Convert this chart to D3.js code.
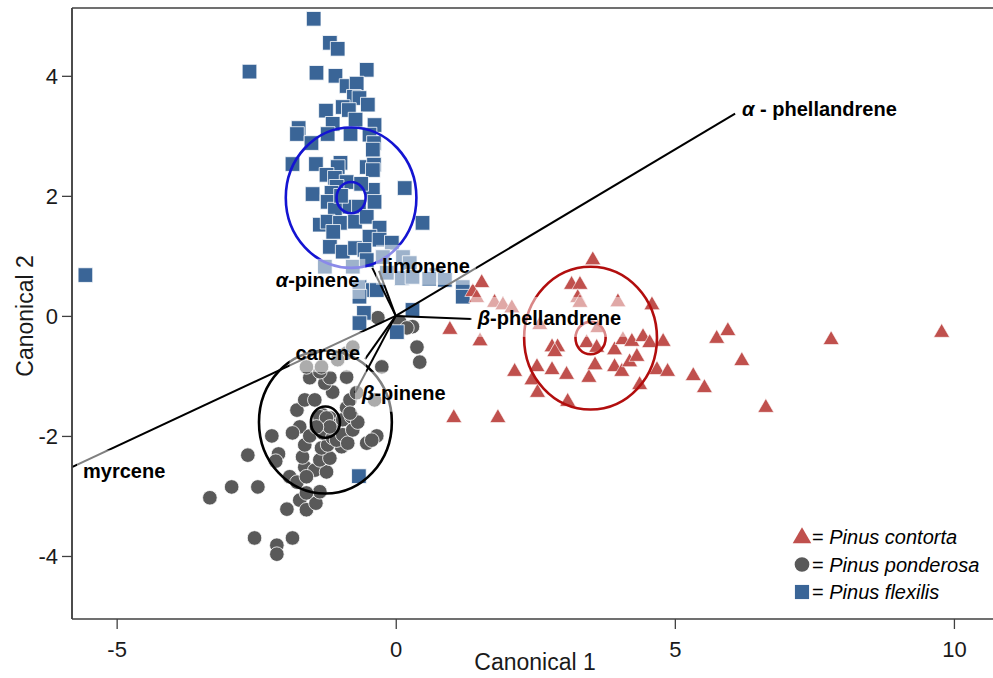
<!DOCTYPE html>
<html>
<head>
<meta charset="utf-8">
<script src="https://cdn.jsdelivr.net/npm/d3@7/dist/d3.min.js"></script>
<style>
  html, body { margin: 0; padding: 0; background: #fff; }
  svg { display: block; font-family: "Liberation Sans", Arial, Helvetica, sans-serif; }
</style>
</head>
<body>
<svg id="chart" width="993" height="678"></svg>
<script>
// ---------------- DATA ----------------
const xTicks = [-5, 0, 5, 10];
const yTicks = [-4, -2, 0, 2, 4];
const xTitle = "Canonical 1";
const yTitle = "Canonical 2";

const speciesNames = ["Pinus contorta", "Pinus ponderosa", "Pinus flexilis"];

// Pinus flexilis (squares)
const flexilis = [
  [-1.47,4.95],[-1.18,4.55],[-1.04,4.45],[-1.42,4.05],[-1.08,4.0],[-0.52,4.1],[-0.88,3.83],[-0.70,3.87],
  [-0.75,3.65],[-0.65,3.63],[-1.25,3.42],[-0.95,3.48],[-0.84,3.43],[-0.50,3.52],[-1.13,3.2],[-0.72,3.27],
  [-1.74,3.13],[-1.77,3.03],[-1.51,2.88],[-1.22,3.03],[-0.81,3.03],[-0.38,3.18],[-0.47,3.02],[-0.39,2.88],
  [-0.41,2.77],[-1.85,2.53],[-1.43,2.53],[-0.99,2.55],[-1.04,2.48],[-0.52,2.48],[-0.39,2.52],[-0.41,2.43],
  [-1.24,2.35],[-1.09,2.3],[-0.88,2.23],[-1.06,2.15],[-1.49,2.03],[0.16,2.13],[-0.41,2.1],[-1.15,2.05],
  [-1.22,1.9],[-0.86,1.82],[-0.66,1.82],[-0.38,1.9],[-1.09,1.77],[-1.36,1.52],[-1.22,1.57],[-1.0,1.55],
  [-0.73,1.57],[-0.52,1.65],[0.48,1.55],[-0.29,1.47],[-0.47,1.32],[-1.18,1.15],[-0.95,1.07],[-0.73,1.13],
  [-0.56,1.1],[-0.29,1.27],[-0.07,1.22],[-1.27,0.82],[-0.77,0.82],[-0.52,0.93],[-0.23,0.98],[0.13,0.98],
  [0.25,0.88],[-0.16,0.72],[0.11,0.63],[0.3,0.65],[0.73,0.68],[0.6,0.62],[0.88,0.6],[-0.65,0.48],
  [-0.41,0.43],[-0.65,0.32],[-0.34,0.43],[-0.57,0.05],[0.3,0.1],[1.2,0.48],[1.2,0.32],[-0.65,-0.12],
  [0.02,-0.27],[-5.56,0.68],[-2.62,4.07],[-0.66,-2.67],[-1.12,1.4],[-0.98,2.0],[-0.62,2.2]
];

// Pinus ponderosa (circles)
const ponderosa = [
  [-3.33,-3.03],[-2.94,-2.85],[-2.47,-2.85],[-2.65,-2.32],[-2.22,-2.0],[-2.1,-2.3],[-2.15,-2.42],[-2.53,-3.7],
  [-2.13,-3.82],[-2.13,-3.97],[-1.85,-3.7],[-1.95,-3.22],[-1.72,-3.07],[-1.6,-3.23],[-1.43,-3.12],[-1.36,-2.93],
  [-1.6,-2.95],[-1.9,-2.68],[-1.77,-2.77],[-1.63,-2.52],[-1.45,-2.57],[-1.24,-2.6],[-1.6,-2.68],[-1.36,-2.4],
  [-1.18,-2.37],[-1.67,-2.35],[-1.33,-2.2],[-1.22,-2.15],[-1.63,-2.15],[-0.97,-2.18],[-0.52,-2.12],[-0.34,-2.0],
  [-1.72,-1.85],[-1.54,-2.0],[-1.31,-1.95],[-1.13,-2.03],[-1.85,-1.95],[-1.77,-1.57],[-1.63,-1.4],[-1.45,-1.4],
  [-1.31,-1.65],[-1.18,-1.7],[-1.13,-1.82],[-0.95,-1.73],[-0.79,-1.68],[-0.88,-1.53],[-0.82,-1.4],[-0.7,-1.28],
  [-0.88,-1.02],[-1.13,-1.27],[-1.27,-1.12],[-1.18,-1.03],[-1.54,-1.03],[-1.36,-0.93],[-1.6,-0.85],[-1.33,-0.85],
  [-0.25,-0.85],[-0.38,-1.4],[-0.88,-0.62],[-0.77,-0.52],[-1.04,-0.73],[-0.43,-2.07],[0.38,-0.52],[0.43,-0.77],
  [-0.32,-0.03],[0.07,-0.1],[0.3,-0.18],[0.2,-0.2],[-1.36,-1.68],[-1.24,-1.7],[-1.18,-1.85],[-1.42,-1.85],
  [-1.06,-2.07],[-0.95,-1.98],[-0.86,-2.12],[-0.77,-1.9],[-0.68,-1.77],[-0.82,-1.62]
];

// Pinus contorta (triangles)
const contorta = [
  [3.53,0.93],[1.54,0.55],[1.38,0.4],[1.45,0.3],[1.77,0.22],[1.92,0.18],[2.08,0.13],[0.97,-0.23],
  [1.51,-0.42],[3.15,0.52],[3.3,0.52],[3.26,0.3],[3.3,0.22],[3.98,0.23],[4.59,0.18],[2.58,-0.15],
  [3.62,-0.2],[2.8,-0.52],[2.9,-0.52],[2.85,-0.6],[3.42,-0.45],[3.6,-0.53],[3.92,-0.57],[4.07,-0.4],
  [4.23,-0.43],[4.43,-0.35],[4.55,-0.45],[4.79,-0.43],[2.13,-0.93],[2.53,-0.85],[2.8,-0.9],[3.06,-0.98],
  [3.46,-1.03],[3.57,-0.82],[3.92,-0.85],[4.05,-0.93],[4.19,-0.77],[4.32,-0.68],[4.68,-0.9],[4.87,-0.93],
  [2.44,-1.07],[2.54,-1.28],[3.08,-1.43],[4.37,-1.15],[1.04,-1.7],[1.83,-1.7],[5.75,-0.38],[5.95,-0.25],
  [6.2,-0.75],[5.33,-1.0],[5.53,-1.2],[6.63,-1.53],[7.8,-0.4],[9.78,-0.28]
];

// Group centroids and confidence-circle radii [cx, cy, outerR, innerR]
const circleContorta  = [3.49, -0.37, 1.19, 0.27];
const circlePonderosa = [-1.26, -1.77, 1.19, 0.26];
const circleFlexilis  = [-0.80, 1.97, 1.17, 0.26];

// Biplot vectors (terpene loadings)
const vectorNames = ["α - phellandrene", "myrcene", "α-pinene", "limonene", "β-phellandrene", "carene", "β-pinene"];
const vectorX = [6.08, -5.8, -0.42, -0.30, 1.36, -0.55, -0.73];
const vectorY = [3.37, -2.52, 0.80, 0.75, -0.05, -0.72, -1.28];

// ---------------- DRAWING ----------------
const W = 993, H = 678;
const plot = { left: 72, right: 993, top: 8, bottom: 619 };
const x = d3.scaleLinear().domain([-5.8, 10.7]).range([plot.left, plot.right]);
const y = d3.scaleLinear().domain([-5.05, 5.13]).range([plot.bottom, plot.top]);

const svg = d3.select("#chart");
svg.append("rect").attr("width", W).attr("height", H).attr("fill", "#fff");

svg.append("defs").append("clipPath").attr("id", "clip")
  .append("rect").attr("x", plot.left).attr("y", plot.top)
  .attr("width", plot.right - plot.left).attr("height", plot.bottom - plot.top);

const g = svg.append("g").attr("clip-path", "url(#clip)");

const colTri = "#c0504d", colCirc = "#595959", colSq = "#3a6597";

// markers
g.selectAll("circle.pond").data(ponderosa).join("circle")
  .attr("class", "pond")
  .attr("cx", d => x(d[0])).attr("cy", d => y(d[1])).attr("r", 7.3)
  .attr("fill", colCirc).attr("stroke", "#fff").attr("stroke-width", 0.8);

const sqSym = d3.symbol().type(d3.symbolSquare).size(215);
g.selectAll("path.flex").data(flexilis).join("path")
  .attr("class", "flex")
  .attr("d", sqSym)
  .attr("transform", d => `translate(${x(d[0])},${y(d[1])})`)
  .attr("fill", colSq).attr("stroke", "#fff").attr("stroke-width", 0.8);

const triSym = d3.symbol().type(d3.symbolTriangle).size(110);
g.selectAll("path.cont").data(contorta).join("path")
  .attr("class", "cont")
  .attr("d", triSym)
  .attr("transform", d => `translate(${x(d[0])},${y(d[1])})`)
  .attr("fill", colTri).attr("stroke", "#fff").attr("stroke-width", 0.6);

// confidence circles
const circles = [
  { c: circleFlexilis, col: "#1414d2" },
  { c: circlePonderosa, col: "#000" },
  { c: circleContorta, col: "#b20e0e" }
];
circles.forEach(o => {
  const [cx, cy, R, r] = o.c;
  [R, r].forEach(rad => {
    g.append("ellipse")
      .attr("cx", x(cx)).attr("cy", y(cy))
      .attr("rx", x(cx + rad) - x(cx)).attr("ry", y(cy) - y(cy + rad))
      .attr("fill", "none").attr("stroke", o.col).attr("stroke-width", 2.6);
  });
});

// vectors
const vectors = vectorNames.map((n, i) => ({ name: n, vx: vectorX[i], vy: vectorY[i] }));
const lineLayer = g.append("g");
vectors.forEach(v => {
  lineLayer.append("line")
    .attr("x1", x(0)).attr("y1", y(0)).attr("x2", x(v.vx)).attr("y2", y(v.vy))
    .attr("stroke", "#000").attr("stroke-width", 2);
});

// label placement (style)
const labelPos = {
  "α - phellandrene": { dx: 7, dy: 2, anchor: "start" },
  "myrcene": { dx: 11, dy: 11, anchor: "start" },
  "α-pinene": { dx: -13, dy: 19, anchor: "end" },
  "limonene": { dx: 3, dy: 2, anchor: "start" },
  "β-phellandrene": { dx: 6, dy: 6, anchor: "start" },
  "carene": { dx: -5, dy: 1, anchor: "end" },
  "β-pinene": { dx: 7, dy: 7, anchor: "start" }
};

const washLayer = svg.append("g").attr("clip-path", "url(#clip)");
const textLayer = svg.append("g");
vectors.forEach(v => {
  const p = labelPos[v.name];
  const tx = x(v.vx) + p.dx, ty = y(v.vy) + p.dy;
  const t = textLayer.append("text")
    .attr("x", tx).attr("y", ty).attr("text-anchor", p.anchor)
    .attr("font-size", 20).attr("font-weight", "bold").attr("fill", "#000");
  const first = v.name.charAt(0);
  if (/[α-ωΑ-Ω]/.test(first)) {
    t.append("tspan").attr("font-style", "italic").text(first);
    t.append("tspan").text(v.name.slice(1));
  } else {
    t.text(v.name);
  }
  const bb = t.node().getBBox();
  washLayer.append("rect")
    .attr("x", bb.x - 6).attr("y", ty - 28)
    .attr("width", bb.width + 12).attr("height", 40)
    .attr("fill", "#fff").attr("fill-opacity", 0.5);
});

// axes
const axisCol = "#404040";
svg.append("line").attr("x1", plot.left).attr("x2", plot.right).attr("y1", plot.top).attr("y2", plot.top)
  .attr("stroke", axisCol).attr("stroke-width", 1.5);
svg.append("line").attr("x1", plot.left).attr("x2", plot.left).attr("y1", plot.top).attr("y2", plot.bottom)
  .attr("stroke", axisCol).attr("stroke-width", 1.5);

const fmt = d => String(d);  // plain hyphen-minus as in the reference
const xAxis = svg.append("g").attr("transform", `translate(0,${plot.bottom})`)
  .call(d3.axisBottom(x).tickValues(xTicks).tickSize(10).tickPadding(8).tickFormat(fmt));
const yAxis = svg.append("g").attr("transform", `translate(${plot.left},0)`)
  .call(d3.axisLeft(y).tickValues(yTicks).tickSize(10).tickPadding(4).tickFormat(fmt));
[xAxis, yAxis].forEach(a => {
  a.select(".domain").attr("stroke", axisCol).attr("stroke-width", 1.5);
  a.selectAll(".tick line").attr("stroke", axisCol).attr("stroke-width", 1.3);
  a.selectAll(".tick text").attr("font-size", 22).attr("fill", "#1a1a1a")
    .attr("font-family", "'Liberation Sans', Arial, sans-serif");
});
xAxis.select(".domain").attr("d", `M${plot.left},0H${plot.right}`);
yAxis.select(".domain").attr("d", `M0,${plot.top}V${plot.bottom}`);
xAxis.selectAll(".tick text").attr("dy", "0.9em");
yAxis.selectAll(".tick text").attr("dy", "0.36em");

svg.append("text").attr("x", 535).attr("y", 670).attr("text-anchor", "middle")
  .attr("font-size", 23).attr("fill", "#1a1a1a").text(xTitle);
svg.append("text").attr("transform", "translate(33,316) rotate(-90)").attr("text-anchor", "middle")
  .attr("font-size", 23).attr("fill", "#1a1a1a").text(yTitle);

// legend
const legend = svg.append("g");
const legendItems = [
  { name: speciesNames[0], sym: d3.symbol().type(d3.symbolTriangle).size(150)(), col: colTri },
  { name: speciesNames[1], sym: d3.symbol().type(d3.symbolCircle).size(170)(), col: colCirc },
  { name: speciesNames[2], sym: d3.symbol().type(d3.symbolSquare).size(200)(), col: colSq }
];
legendItems.forEach((it, i) => {
  const cy = 537 + i * 27.5;
  legend.append("path").attr("d", it.sym).attr("transform", `translate(802,${cy + (i === 0 ? 1 : 0)})`)
    .attr("fill", it.col);
  const t = legend.append("text").attr("x", 812).attr("y", cy + 7)
    .attr("font-size", 20).attr("fill", "#000");
  t.append("tspan").text("= ");
  t.append("tspan").attr("font-style", "italic").text(it.name);
});
</script>
</body>
</html>
